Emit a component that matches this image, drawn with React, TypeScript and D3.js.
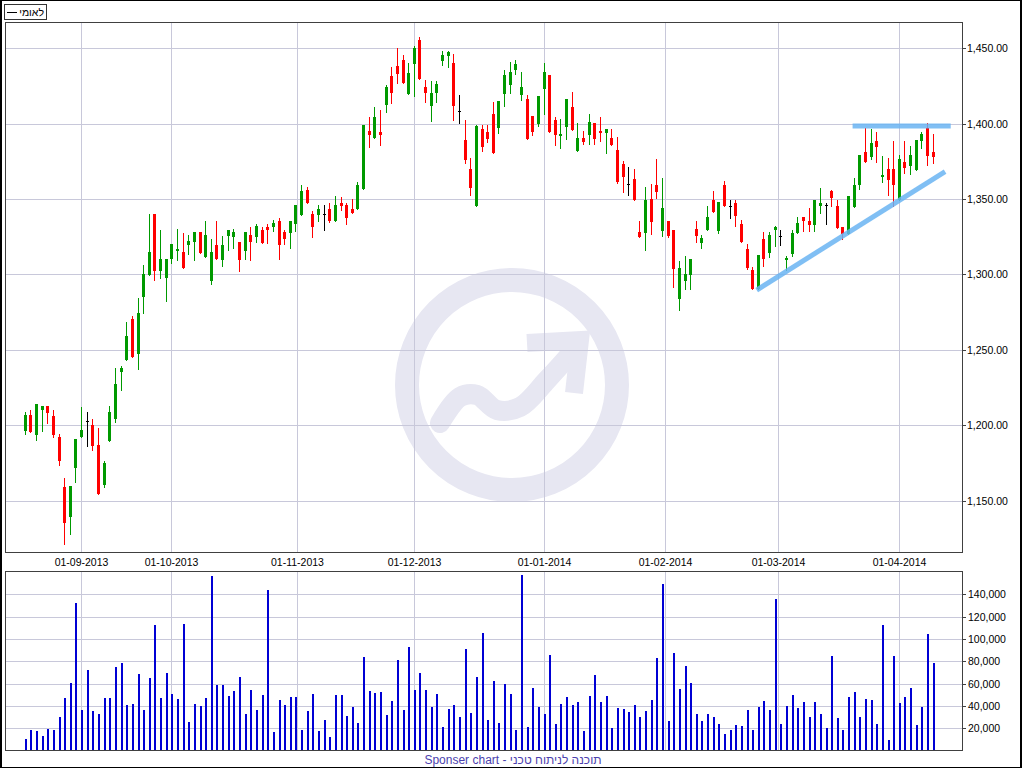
import React from 'react';
import * as d3 from 'd3';

const opens = [1196.4,1206.8,1193.5,1210.1,1212.8,1206.1,1192.2,1159.1,1139.4,1171.9,1192.0,1202.6,1200.2,1186.9,1160.4,1189.8,1204.1,1235.6,1243.3,1270.5,1247.1,1284.9,1299.9,1340.1,1302.6,1297.7,1310.3,1315.9,1314.9,1319.6,1321.6,1328.2,1311.8,1295.9,1319.6,1309.6,1325.5,1324.9,1321.6,1315.6,1326.2,1324.9,1329.5,1331.5,1331.5,1335.5,1328.2,1327.5,1333.5,1339.5,1356.0,1340.1,1339.5,1340.1,1343.5,1335.5,1347.4,1346.1,1343.5,1343.5,1356.7,1395.2,1390.5,1394.5,1412.4,1431.6,1438.3,1442.2,1419.7,1439.6,1455.5,1424.3,1411.8,1420.4,1441.6,1444.9,1440.3,1408.4,1389.2,1370.0,1345.5,1396.5,1394.5,1406.4,1396.8,1419.7,1425.7,1435.6,1419.0,1416.4,1405.1,1399.8,1423.0,1432.3,1402.5,1391.8,1397.8,1411.1,1381.9,1390.5,1392.5,1400.5,1395.2,1393.8,1390.5,1382.6,1373.3,1360.0,1363.3,1328.2,1327.5,1350.1,1359.4,1328.9,1335.5,1329.5,1283.8,1295.7,1299.7,1330.2,1320.9,1329.5,1349.4,1328.9,1359.4,1345.4,1347.4,1333.5,1316.9,1303.0,1290.4,1323.6,1314.3,1329.5,1325.6,1309.6,1313.6,1327.5,1338.1,1335.5,1332.8,1345.4,1346.1,1355.4,1345.4,1331.5,1326.9,1344.8,1359.4,1381.2,1377.9,1388.5,1364.7,1369.9,1369.9,1349.4,1374.6,1371.9,1369.3,1388.5,1397.1,1381.2];
const highs = [1208.8,1210.1,1214.1,1212.8,1212.8,1210.1,1194.2,1165.0,1160.0,1190.9,1212.1,1208.8,1204.2,1198.2,1176.3,1212.8,1237.8,1239.4,1268.5,1272.5,1284.4,1306.3,1340.1,1340.1,1329.5,1310.3,1320.2,1330.2,1327.5,1326.2,1328.2,1328.2,1335.5,1323.3,1335.5,1325.5,1329.5,1330.2,1321.6,1328.2,1331.5,1333.5,1331.5,1333.5,1336.2,1337.5,1329.5,1335.5,1346.1,1359.4,1358.0,1342.1,1346.1,1346.1,1347.4,1352.1,1351.4,1347.4,1350.1,1361.4,1399.2,1404.5,1411.1,1409.1,1425.6,1437.6,1450.2,1445.6,1440.3,1451.5,1457.5,1429.0,1428.3,1428.3,1448.2,1448.2,1446.2,1419.0,1402.5,1377.3,1399.2,1399.1,1399.1,1414.4,1415.0,1435.6,1441.0,1442.0,1434.3,1419.0,1405.1,1418.4,1440.3,1432.3,1404.4,1403.1,1416.4,1421.0,1400.5,1395.2,1406.4,1400.5,1404.4,1396.5,1396.5,1391.2,1375.3,1371.3,1369.9,1335.5,1358.0,1360.0,1376.6,1364.0,1335.5,1329.5,1308.9,1312.3,1310.3,1335.5,1326.2,1345.4,1355.4,1348.1,1362.0,1349.4,1349.4,1336.2,1320.2,1305.0,1312.9,1328.2,1328.2,1332.2,1329.5,1312.3,1329.5,1338.1,1338.1,1344.1,1349.4,1357.4,1347.4,1356.0,1349.4,1331.5,1352.1,1364.0,1379.3,1397.1,1396.5,1394.5,1378.6,1377.3,1388.5,1379.3,1388.5,1385.2,1389.2,1394.5,1400.5,1393.2];
const lows = [1194.2,1195.7,1190.2,1196.4,1201.7,1192.4,1173.6,1121.0,1128.0,1162.6,1192.0,1186.5,1183.8,1154.6,1159.1,1189.8,1202.2,1223.4,1243.3,1245.5,1237.6,1274.7,1299.9,1296.4,1297.7,1282.7,1307.9,1309.6,1304.5,1313.6,1309.6,1314.5,1311.8,1293.9,1310.3,1305.7,1316.3,1317.6,1302.6,1310.3,1309.6,1321.6,1320.9,1320.9,1328.9,1310.3,1320.2,1317.6,1328.9,1339.5,1347.4,1324.9,1335.5,1329.5,1334.8,1335.5,1342.8,1333.5,1340.8,1343.5,1356.7,1384.6,1390.5,1385.9,1407.8,1413.7,1427.0,1427.0,1419.7,1418.4,1429.6,1414.4,1401.8,1414.4,1438.9,1437.6,1402.5,1400.5,1374.0,1352.8,1345.5,1381.9,1387.9,1380.6,1393.8,1411.7,1420.4,1433.0,1415.7,1389.9,1392.5,1398.5,1406.4,1394.5,1385.9,1383.9,1389.9,1395.8,1381.9,1386.5,1386.5,1386.5,1388.5,1380.6,1385.9,1360.7,1354.7,1352.7,1349.4,1324.9,1316.3,1326.9,1350.7,1325.6,1324.9,1291.7,1276.5,1290.4,1290.4,1321.6,1317.6,1329.5,1341.5,1327.5,1345.4,1337.5,1332.2,1321.6,1303.7,1290.4,1290.4,1305.7,1311.6,1318.9,1319.6,1303.0,1312.3,1327.5,1328.9,1328.9,1328.9,1340.8,1333.5,1345.4,1330.8,1323.6,1326.9,1344.8,1356.7,1374.6,1376.6,1374.6,1361.4,1352.7,1345.4,1349.4,1367.3,1366.6,1369.3,1383.9,1372.6,1373.9];
const closes = [1206.8,1195.7,1214.1,1212.8,1208.3,1193.5,1176.5,1135.4,1159.7,1190.9,1196.9,1202.6,1186.5,1154.6,1175.0,1208.8,1227.4,1237.8,1259.2,1245.5,1274.3,1300.2,1314.9,1302.6,1310.3,1310.3,1320.2,1317.2,1304.5,1322.2,1328.2,1314.5,1326.2,1314.9,1310.3,1319.6,1329.5,1328.2,1309.6,1328.2,1321.6,1332.2,1320.9,1329.5,1334.2,1319.6,1323.5,1335.5,1346.1,1355.4,1347.4,1331.5,1343.5,1340.1,1335.5,1346.1,1345.5,1337.5,1340.8,1359.4,1399.2,1392.5,1404.5,1392.5,1424.3,1420.4,1433.0,1427.0,1433.6,1450.2,1429.6,1420.4,1420.4,1426.3,1445.6,1447.6,1411.8,1408.4,1376.0,1357.4,1398.5,1384.6,1389.9,1380.6,1415.0,1432.3,1434.3,1439.6,1424.3,1389.9,1394.5,1418.4,1434.3,1394.5,1392.5,1393.2,1416.4,1395.8,1390.5,1387.9,1401.1,1389.9,1393.8,1396.5,1385.9,1361.3,1364.7,1360.0,1349.4,1324.9,1349.4,1334.8,1354.7,1344.1,1325.6,1303.7,1304.3,1300.3,1310.3,1325.6,1324.2,1338.1,1341.5,1348.1,1345.4,1345.4,1338.8,1321.6,1304.3,1290.4,1312.9,1310.3,1326.2,1331.5,1325.6,1310.9,1327.5,1334.2,1335.5,1332.8,1349.4,1347.4,1346.1,1350.7,1330.8,1326.9,1352.1,1359.4,1379.3,1374.6,1387.2,1384.5,1366.0,1362.7,1359.4,1376.6,1370.6,1379.3,1389.2,1393.2,1378.6,1377.9];
const volumes = [10400,18500,17600,13100,19400,18500,30100,47200,60600,132200,36400,72200,35500,32800,47200,47200,74900,78500,40900,41800,68700,36400,65100,112500,47200,69600,50700,46300,113400,25700,41800,40000,47200,156400,58800,58800,49000,53400,66000,32800,54300,36400,49900,143900,16700,45400,40900,48100,48100,18500,35500,50700,17600,27500,12200,49900,49900,31000,39100,24800,83900,53400,51600,52500,31900,44500,81200,36400,92800,54300,69600,54300,39100,50700,21200,37300,40900,30100,91000,33700,66000,105400,27500,62400,24800,59700,50700,18500,157300,21200,56100,39100,32800,85700,23900,41800,48100,40900,43600,17600,49000,67800,43600,49000,20300,38200,37300,34600,40900,30100,35500,45400,83000,149300,26600,87500,55200,75800,60600,32800,26600,32800,30100,23900,14900,18500,23000,22100,36400,18500,39100,44500,36400,135800,23900,40000,49900,38200,43600,30100,43600,32800,20300,84800,29300,18500,48100,52500,30100,46300,45400,23900,112500,9600,84800,42700,48100,56100,23000,39100,104500,78500];

const monthTickPos = [10, 26, 48.33, 69, 92, 113.6, 133.6, 155];
const monthTickLabels = ['01-09-2013', '01-10-2013', '01-11-2013', '01-12-2013', '01-01-2014', '01-02-2014', '01-03-2014', '01-04-2014'];
const priceTicks = [1150, 1200, 1250, 1300, 1350, 1400, 1450];
const volumeTicks = [20000, 40000, 60000, 80000, 100000, 120000, 140000];

// trend lines drawn on the chart (index, price)
const trendStartIdx = [129.8, 146.8];
const trendStartPrice = [1289.7, 1398.5];
const trendEndIdx = [163.2, 164.2];
const trendEndPrice = [1368.2, 1398.5];

const seriesName = 'לאומי';
const footerText = 'Sponser chart - תוכנה לניתוח טכני';

const GRID = '#c8c8da';
const AXIS = '#404040';
const UP = '#009900';
const DOWN = '#ff0000';
const DOJI = '#000000';
const VOL = '#0000d4';
const WM = '#e7e7f2';
const FONT = '"Liberation Sans", Arial, sans-serif';

export default function App() {
  const L = 5, R = 962;
  const mainTop = 22, mainBottom = 552;
  const volTop = 570.7, volBottom = 750.7;

  const x = d3.scaleLinear().domain([-3.5, 166.2]).range([L, R]);
  const y = d3.scaleLinear().domain([1116, 1467.4]).range([mainBottom, mainTop]);
  const yv = d3.scaleLinear().domain([0, 161100]).range([volBottom, volTop]);
  const fmtPrice = d3.format(',.2f');
  const fmtVol = d3.format(',');

  const idx = d3.range(opens.length);
  const px = (i: number) => Math.round(x(i));

  const cx = 512, cy = 385;
  const arrowPath = d3.line().curve(d3.curveCatmullRom)([
    [cx - 72, cy + 38], [cx - 52, cy + 12], [cx - 35, cy + 10], [cx - 15, cy + 25], [cx + 8, cy + 22], [cx + 35, cy - 5], [cx + 62, cy - 35],
  ] as [number, number][]);

  return (
    <svg width={1024} height={768} style={{ position: 'absolute', left: 0, top: 0, background: '#fff' }} fontFamily={FONT}>
      <rect x={0} y={0} width={1024} height={768} fill="#fff" />
      {/* watermark */}
      <g>
        <circle cx={cx} cy={cy} r={105} fill="none" stroke={WM} strokeWidth={24} />
        <path d={arrowPath || ''} fill="none" stroke={WM} strokeWidth={20} strokeLinecap="round" />
        <path d={`M${cx + 15},${cy - 42} L${cx + 68},${cy - 45} L${cx + 62},${cy + 8}`} fill="none" stroke={WM} strokeWidth={18} strokeLinejoin="miter" />
      </g>

      {/* main grid */}
      <g shapeRendering="crispEdges">
        {priceTicks.map((t) => (
          <line key={'pg' + t} x1={L} x2={R} y1={Math.round(y(t)) + 0.5} y2={Math.round(y(t)) + 0.5} stroke={GRID} />
        ))}
        {monthTickPos.map((p, k) => (
          <line key={'mg' + k} x1={px(p) + 0.5} x2={px(p) + 0.5} y1={mainTop} y2={mainBottom} stroke={GRID} />
        ))}
        {volumeTicks.map((t) => (
          <line key={'vg' + t} x1={L} x2={R} y1={Math.round(yv(t)) + 0.5} y2={Math.round(yv(t)) + 0.5} stroke={GRID} />
        ))}
        {monthTickPos.map((p, k) => (
          <line key={'vmg' + k} x1={px(p) + 0.5} x2={px(p) + 0.5} y1={volTop} y2={volBottom} stroke={GRID} />
        ))}
      </g>

      {/* candles */}
      <g shapeRendering="crispEdges">
        {idx.map((i) => {
          const o = opens[i], c = closes[i], h = highs[i], l = lows[i];
          const col = c > o ? UP : c < o ? DOWN : DOJI;
          const xi = px(i);
          const top = Math.round(y(Math.max(o, c)));
          const bot = Math.round(y(Math.min(o, c)));
          return (
            <g key={'c' + i}>
              <line x1={xi + 0.5} x2={xi + 0.5} y1={Math.round(y(h))} y2={Math.round(y(l)) + 1} stroke={col} />
              {c === o ? (
                <line x1={xi - 1} x2={xi + 2} y1={top + 0.5} y2={top + 0.5} stroke={col} />
              ) : (
                <rect x={xi - 1} y={top} width={3} height={Math.max(1, bot - top)} fill={col} />
              )}
            </g>
          );
        })}
      </g>

      {/* trend lines */}
      <g>
        {trendStartIdx.map((s, k) => (
          <line key={'tl' + k} x1={x(s)} y1={y(trendStartPrice[k])} x2={x(trendEndIdx[k])} y2={y(trendEndPrice[k])}
            stroke="#6ab4f2" strokeOpacity={0.85} strokeWidth={5} />
        ))}
      </g>

      {/* volume bars */}
      <g shapeRendering="crispEdges">
        {idx.map((i) => (
          <rect key={'v' + i} x={px(i)} y={yv(volumes[i])} width={2} height={volBottom - yv(volumes[i])} fill={VOL} />
        ))}
      </g>

      {/* panel frames */}
      <g shapeRendering="crispEdges" fill="none" stroke={AXIS}>
        <rect x={L + 0.5} y={mainTop + 0.5} width={R - L} height={mainBottom - mainTop} />
        <rect x={L + 0.5} y={Math.round(volTop) + 0.5} width={R - L} height={Math.round(volBottom) - Math.round(volTop) - 1} />
      </g>

      {/* axes labels */}
      <g fontSize={10.5} fill="#000">
        {priceTicks.map((t) => (
          <g key={'pt' + t}>
            <line x1={R} x2={R + 4} y1={Math.round(y(t)) + 0.5} y2={Math.round(y(t)) + 0.5} stroke={AXIS} shapeRendering="crispEdges" />
            <text x={R + 5} y={y(t) + 4}>{fmtPrice(t)}</text>
          </g>
        ))}
        {volumeTicks.map((t) => (
          <g key={'vt' + t}>
            <line x1={R} x2={R + 4} y1={Math.round(yv(t)) + 0.5} y2={Math.round(yv(t)) + 0.5} stroke={AXIS} shapeRendering="crispEdges" />
            <text x={R + 6} y={yv(t) + 4}>{fmtVol(t)}</text>
          </g>
        ))}
        {monthTickPos.map((p, k) => (
          <text key={'ml' + k} x={px(p) + 0.5} y={566} textAnchor="middle">{monthTickLabels[k]}</text>
        ))}
      </g>

      {/* legend */}
      <g shapeRendering="crispEdges">
        <rect x={4.5} y={4.5} width={42} height={15} fill="#fff" stroke="#333" />
        <line x1={7} x2={17} y1={12.5} y2={12.5} stroke="#000" />
      </g>
      <text x={44} y={16} fontSize={10.5} direction="rtl" textAnchor="start" fill="#000">{seriesName}</text>

      {/* footer */}
      <text x={513} y={764} fontSize={12} textAnchor="middle" fill="#4b3fae">{footerText}</text>

      {/* outer border */}
      <g shapeRendering="crispEdges" stroke="#000" fill="none">
        <line x1={1} x2={1} y1={0} y2={768} strokeWidth={2} />
        <line x1={1021} x2={1021} y1={0} y2={768} strokeWidth={2} />
        <line x1={0} x2={1022} y1={0.5} y2={0.5} />
        <line x1={0} x2={1022} y1={767.5} y2={767.5} />
      </g>
    </svg>
  );
}
